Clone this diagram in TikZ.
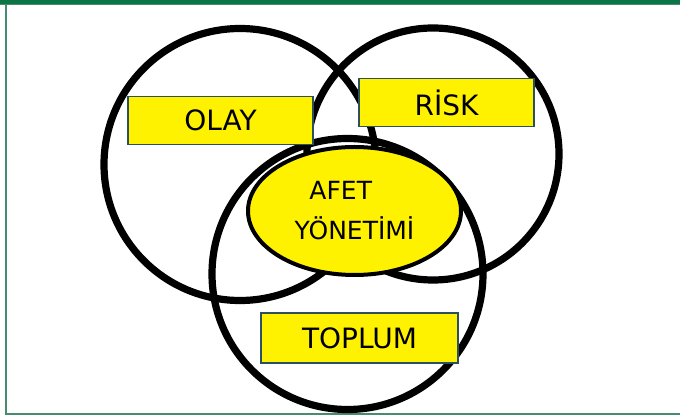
\documentclass[tikz,border=0pt]{standalone}
\usepackage{fontspec}
\setmainfont{DejaVu Sans}
\usetikzlibrary{shapes.geometric}
\definecolor{framegreen}{RGB}{12,117,72}
\definecolor{framelight}{RGB}{70,140,110}
\definecolor{boxline}{RGB}{45,80,95}
\begin{document}
\begin{tikzpicture}[x=0.5pt, y=-0.5pt]

    \tikzstyle{ring} = [line width=3.6pt, black]
    \tikzstyle{label} = [rectangle, draw=boxline, line width=0.7pt, fill=yellow, inner sep=0pt, minimum height=24pt, font=\fontsize{14}{16}\selectfont]
    \tikzstyle{core} = [ellipse, draw, line width=2pt, fill=yellow, inner sep=0pt, minimum width=106.5pt, minimum height=64pt, align=center, font=\fontsize{12.5}{20}\selectfont]

    \useasboundingbox (0,0) rectangle (680,416);
    % frame
    \fill[framegreen] (0,0) rectangle (680,4);
    \draw[framelight, line width=0.8pt] (0,4.5) -- (680,4.5);
    \draw[framelight, line width=0.8pt] (6,4) -- (6,414) -- (680,414);

    % circles
    \draw[ring] (240,164.5) circle[radius=136];
    \draw[ring] (433,154) circle[radius=126];
    \draw[ring] (347.5,274) circle[radius=135.5];

    \node[label, minimum width=92.5pt] (olay) at (220.5,120.5) {OLAY};
    \node[label, minimum width=87.5pt] (risk) at (446.5,102.5) {RİSK};
    \node[label, minimum width=98.5pt, minimum height=25pt] (toplum) at (359.5,338) {TOPLUM};

    \node[core] (afet) at (354.5,211) {AFET\hspace*{1.1em}\\YÖNETİMİ};

\end{tikzpicture}
\end{document}
